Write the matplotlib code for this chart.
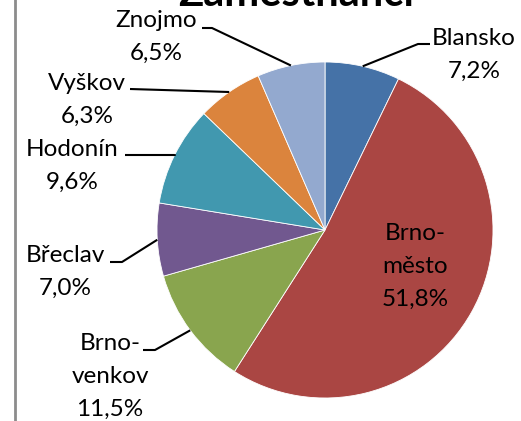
import matplotlib
matplotlib.use('Agg')
import matplotlib.pyplot as plt
import numpy as np

plt.rcParams['font.family'] = ['Lato', 'DejaVu Sans']

districts = ['Blansko', 'Brno-\nměsto', 'Brno-\nvenkov', 'Břeclav', 'Hodonín', 'Vyškov', 'Znojmo']
shares = [7.2, 51.8, 11.5, 7.0, 9.6, 6.3, 6.5]
colors = ['#4572A7', '#AA4643', '#89A54E', '#71588F', '#4198AF', '#DB843D', '#93A9CF']

# label layout in pixel coords (y from top): text centre x, first baseline y, elbow x, elbow y, end x
label_pos = {
    'Blansko':  (474, 45, 418, 44, 430),
    'Brno-\nvenkov': (110, 350, 155, 350, 143),
    'Břeclav':  (65, 262, 122, 262, 110),
    'Hodonín':  (72, 156, 175, 155, 125),
    'Vyškov':   (87, 90, 130, 89, 130),
    'Znojmo':   (156, 27, 212, 28, 202),
}

W, H = 521, 421
fig = plt.figure(figsize=(W / 100, H / 100), dpi=100)
ax = fig.add_axes([0, 0, 1, 1])

cx, cy, r = 325, H - 230, 168
wedges, _ = ax.pie(shares, colors=colors, startangle=90, counterclock=False,
                   center=(cx, cy), radius=r, frame=True,
                   wedgeprops=dict(linewidth=0.6, edgecolor='white'))
ax.set_xlim(0, W)
ax.set_ylim(0, H)
ax.axis('off')

fs = 17.5
lsp = 33
for w, name, val in zip(wedges, districts, shares):
    ang = np.deg2rad((w.theta1 + w.theta2) / 2)
    pct = f'{val:.1f}%'.replace('.', ',')
    lines = name.split('\n') + [pct]
    if name not in label_pos:
        # label inside the big slice
        tx, ty0 = 415, H - 240
        for i, s in enumerate(lines):
            ax.text(tx, ty0 - i * lsp, s, ha='center', va='baseline', fontsize=fs, color='black')
        continue
    tx, by, ex, ey, lx = label_pos[name]
    px, py = cx + r * np.cos(ang), cy + r * np.sin(ang)
    ax.plot([px, ex, lx], [py, H - ey, H - ey], color='black', lw=1.5, solid_capstyle='butt')
    for i, s in enumerate(lines):
        ax.text(tx, H - by - i * lsp, s, ha='center', va='baseline', fontsize=fs, color='black')

# title, mostly cut off by the top edge (as in the source image)
ax.text(296, H - 6, 'Zaměstnanci', ha='center', va='baseline', fontsize=30,
        fontweight='bold', color='black', clip_on=False)

# frame line on the left
ax.plot([15, 15], [0, H], color='#8c8c8c', lw=2)

fig.savefig('out.png', dpi=100)
